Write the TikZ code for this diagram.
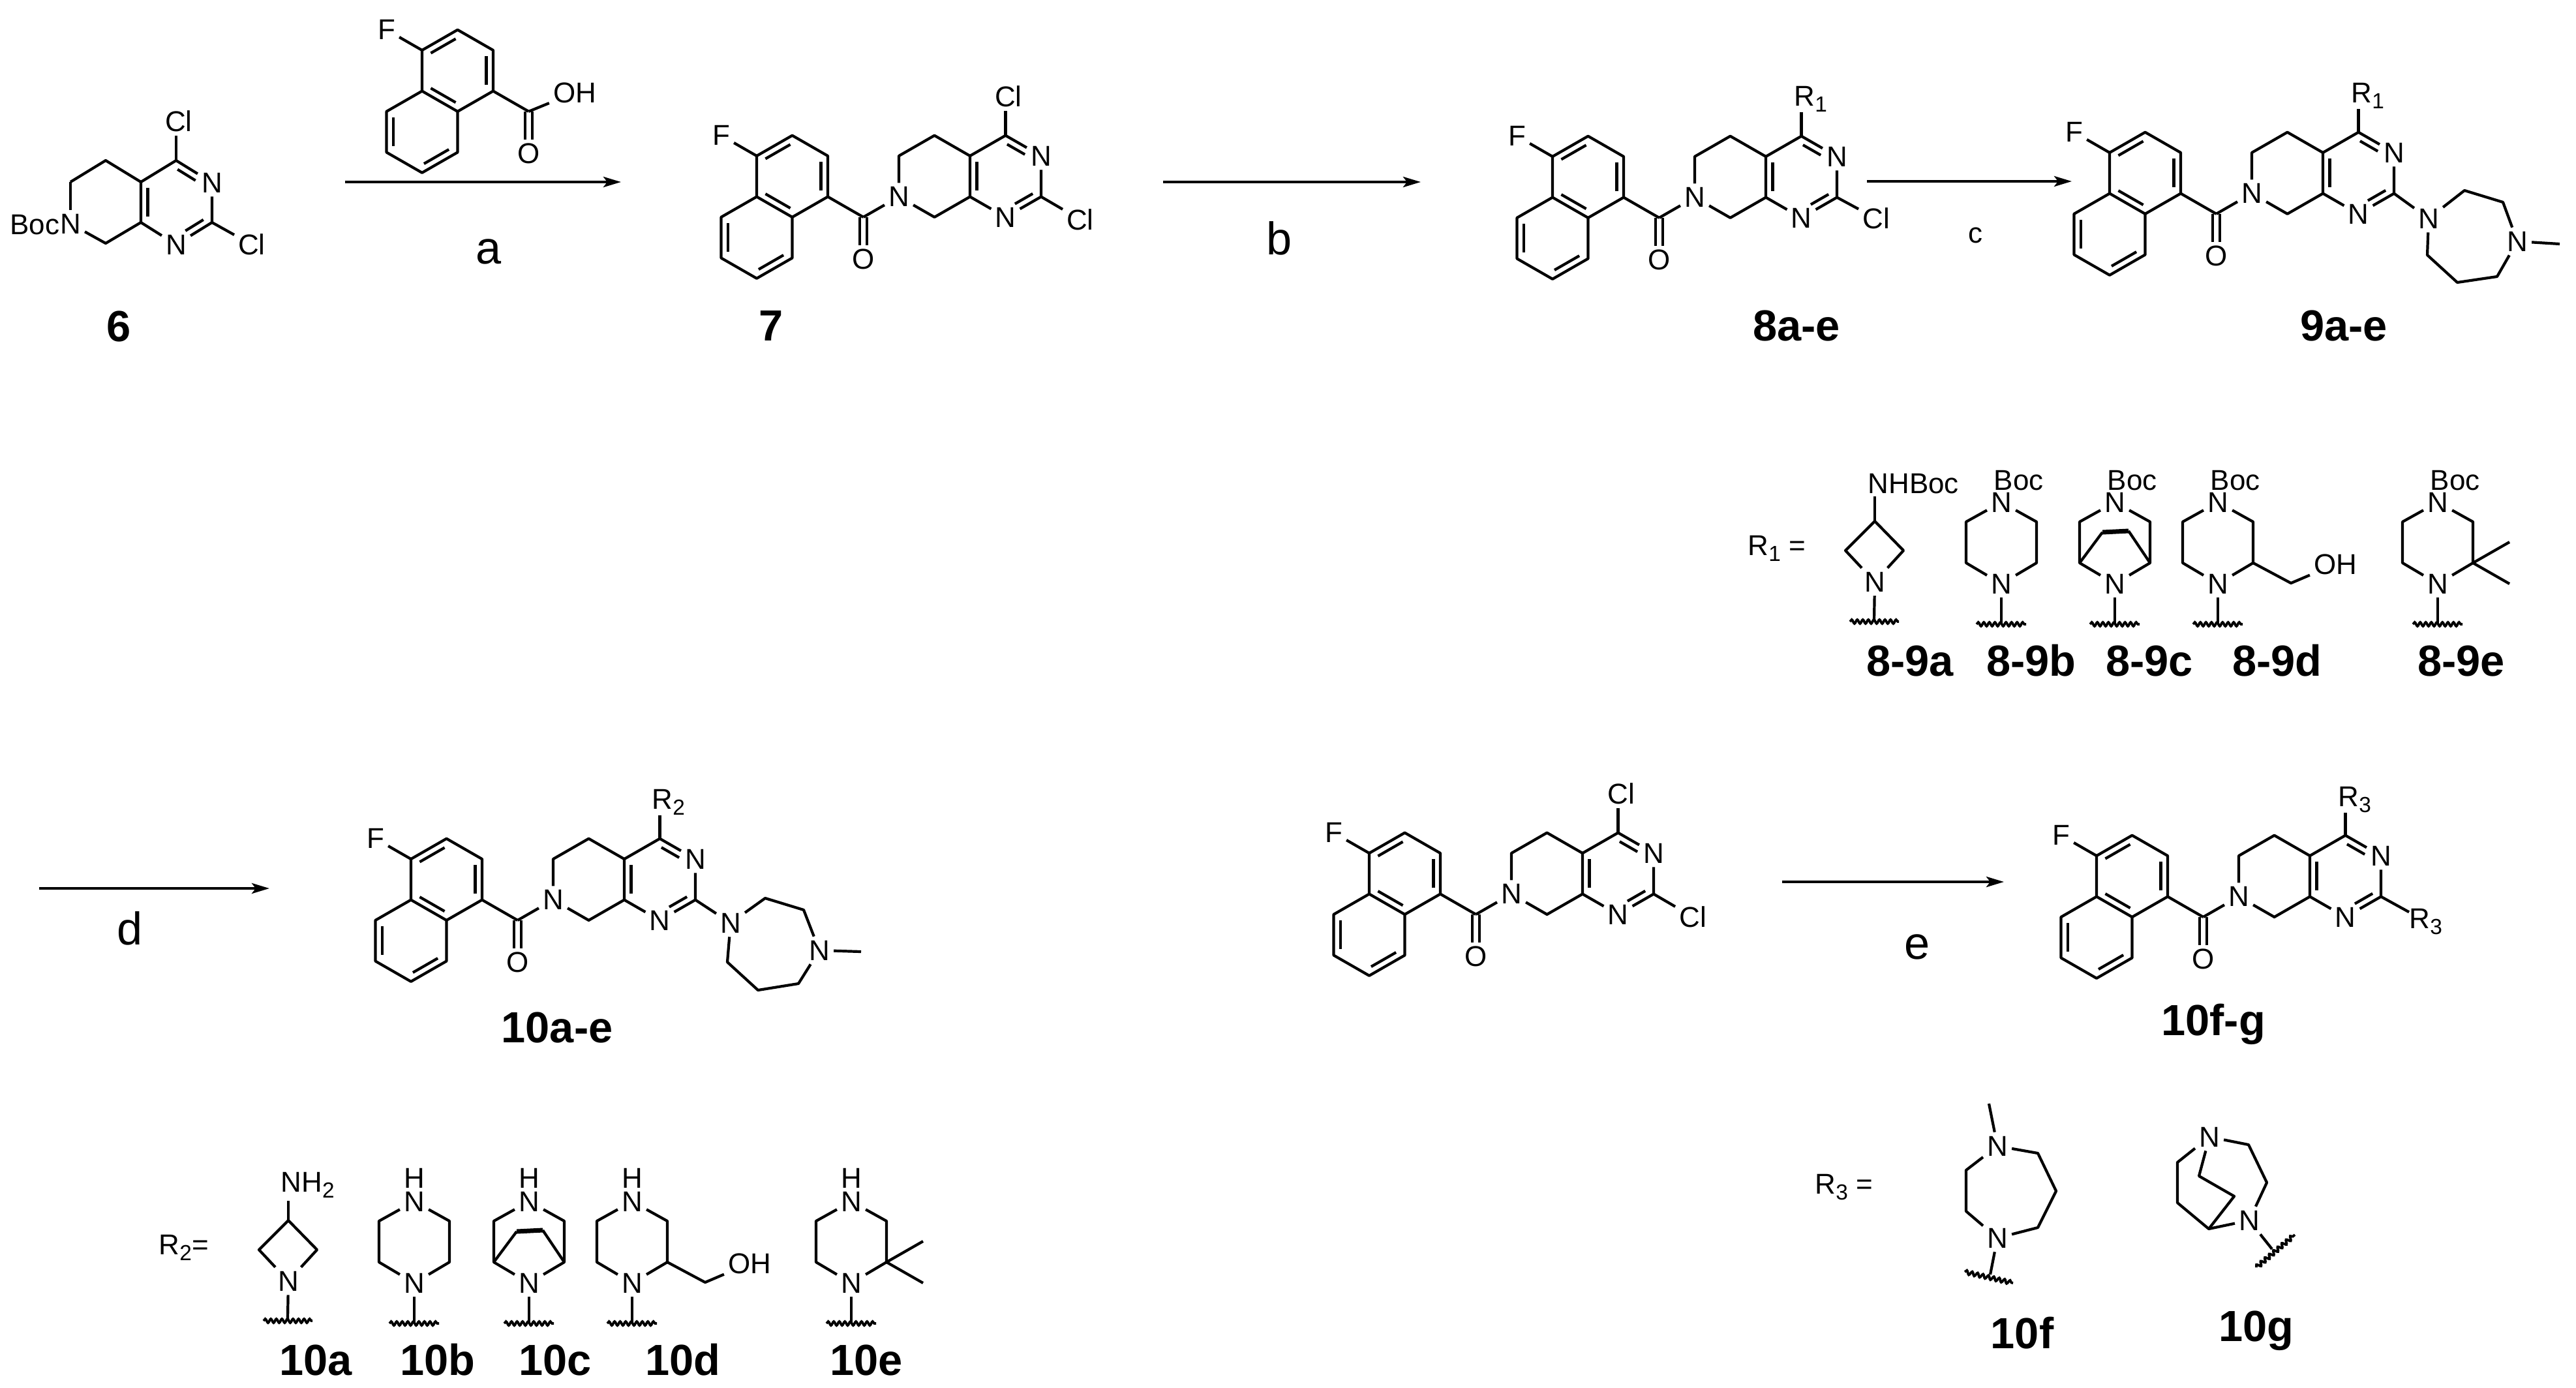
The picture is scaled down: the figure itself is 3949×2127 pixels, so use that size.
\documentclass[tikz,border=0pt]{standalone}
\usepackage{fontspec}
\setmainfont{Liberation Sans}
\usetikzlibrary{calc,arrows.meta,decorations.pathmorphing}
\tikzset{
  bond/.style={draw=black,line width=.42mm,line join=round},
  thickbond/.style={draw=black,line width=.7mm},
  atom/.style={font=\fontsize{12.5}{14}\selectfont,inner sep=.55mm,text=black},
  topatom/.style={atom,inner ysep=.12mm},
  plain/.style={font=\fontsize{12.5}{14}\selectfont,inner sep=.5mm,text=black},
  toplabel/.style={font=\fontsize{12.5}{14}\selectfont,inner sep=0pt,text=black},
  rlabel/.style={font=\fontsize{20}{22}\selectfont,inner sep=0pt,anchor=base,text=black},
  cpd/.style={font=\fontsize{19}{22}\selectfont\bfseries,inner sep=0pt,anchor=base,text=black},
  rxn/.style={draw=black,line width=.42mm,-{Stealth[length=2.7mm,width=1.6mm,inset=.6mm]}},
  wave/.style={draw=black,line width=.38mm,decorate,decoration={snake,amplitude=.3mm,segment length=.85mm}}
}
\newcommand{\sbs}[1]{\raisebox{-.9mm}{\fontsize{9.5}{10}\selectfont #1}}
\newcommand{\dbl}[2]{\draw[bond] ($(#1)!.15!(#2)!1.05mm!90:(#2)$) -- ($(#2)!.15!(#1)!1.05mm!-90:(#1)$);}
\newcommand{\dblx}[2]{\draw[bond] ($(#1)!.36!(#2)!1.05mm!90:(#2)$) -- ($(#2)!.14!(#1)!1.05mm!-90:(#1)$);}
% naphthalene with F and C=O; origin = C bearing F
\newcommand{\naph}[3]{%
  \begin{scope}[shift={(#2,#3)},x=5.45mm,y=-3.13mm]
    \coordinate (#1a) at (0,0); \coordinate (#1b) at (1,-1); \coordinate (#1c) at (2,0);
    \coordinate (#1d) at (2,2); \coordinate (#1e) at (1,3); \coordinate (#1f) at (0,2);
    \coordinate (#1g) at (-1,3); \coordinate (#1h) at (-1,5); \coordinate (#1i) at (0,6);
    \coordinate (#1j) at (1,5); \coordinate (#1co) at (3,3);
    \node[atom] (#1F) at (-1,-1) {F};
    \node[atom] (#1O) at (3,5.06) {O};
  \end{scope}
  \draw[bond] (#1a)--(#1b)--(#1c)--(#1d)--(#1e)--(#1f)--cycle;
  \draw[bond] (#1f)--(#1g)--(#1h)--(#1i)--(#1j)--(#1e);
  \draw[bond] (#1a)--(#1F);
  \draw[bond] (#1d)--(#1co);
  \dbl{#1b}{#1a}\dbl{#1d}{#1c}\dbl{#1f}{#1e}\dbl{#1g}{#1h}\dbl{#1i}{#1j}
  \draw[bond] ($(#1co)+(-5.5,0)$) -- ($(#1co |- #1O.north)+(-5.5,0)$);
  \draw[bond] ($(#1co)+(5.5,0)$) -- ($(#1co |- #1O.north)+(5.5,0)$);
}
\newcommand{\core}[3]{%
  \naph{#1}{#2}{#3}
  \begin{scope}[shift={(#2,#3)},x=5.45mm,y=-3.13mm]
    \node[atom] (#1N7) at (4,2) {N};
    \coordinate (#1C8) at (4,0); \coordinate (#1C5) at (5,-1); \coordinate (#1C4a) at (6,0);
    \coordinate (#1C8a) at (6,2); \coordinate (#1C9) at (5,3);
    \coordinate (#1C4) at (7,-1); \coordinate (#1C2) at (8,2);
    \node[atom] (#1N3) at (8,0) {N};
    \node[atom] (#1N1) at (7,3) {N};
  \end{scope}
  \draw[bond] (#1co)--(#1N7);
  \draw[bond] (#1N7)--(#1C8)--(#1C5)--(#1C4a)--(#1C8a)--(#1C9)--(#1N7);
  \draw[bond] (#1C4a)--(#1C4)--(#1N3)--(#1C2)--(#1N1)--(#1C8a);
  \dbl{#1C4a}{#1C8a}\dblx{#1N1}{#1C2}\dblx{#1N3}{#1C4}
}
\newcommand{\clcl}[1]{%
  \node[atom] (#1Clt) at ($(#1C4)+(4.5,-60)$) {Cl};
  \node[atom] (#1Clr) at ($(#1C2)+(60,35)$) {Cl};
  \draw[bond] (#1C4)--(#1C4 |- #1Clt.south);
  \draw[bond] (#1C2)--(#1Clr);
}
% seven-membered ring given by its points
\newcommand{\dzp}[9]{%
  \node[atom] (#1Na) at #2 {N};
  \node[atom] (#1Nb) at #5 {N};
  \coordinate (#1r1) at #3; \coordinate (#1r2) at #4;
  \coordinate (#1r3) at #6; \coordinate (#1r4) at #7; \coordinate (#1r5) at #8;
  \coordinate (#1me) at #9;
  \draw[bond] (#1Na)--(#1r1)--(#1r2)--(#1Nb)--(#1r3)--(#1r4)--(#1r5)--(#1Na);
  \draw[bond] (#1Nb)--(#1me);
}
\newcommand{\pip}[3]{%
  \node[topatom] (#1Nt) at (#2,#3) {N};
  \node[atom] (#1Nb) at (#2,#3+125) {N};
  \coordinate (#1c1) at (#2+54,#3+30); \coordinate (#1c2) at (#2+54,#3+93);
  \coordinate (#1c3) at (#2-54,#3+93); \coordinate (#1c4) at (#2-54,#3+30);
  \coordinate (#1t) at (#2,#3+187);
  \coordinate (#1wl) at (#2-38,#3+187); \coordinate (#1wr) at (#2+38,#3+187);
  \draw[bond] (#1Nt)--(#1c1)--(#1c2)--(#1Nb)--(#1c3)--(#1c4)--(#1Nt);
  \draw[bond] (#1Nb)--(#1t);
  \draw[wave] (#1wl)--(#1wr);
}
\newcommand{\azet}[3]{%
  \coordinate (#1c) at (#2,#3); \coordinate (#1l) at (#2-45,#3+45); \coordinate (#1r) at (#2+44,#3+45);
  \node[atom] (#1N) at (#2,#3+93) {N};
  \coordinate (#1t) at (#2-1,#3+151);
  \coordinate (#1wl) at (#2-38,#3+154); \coordinate (#1wr) at (#2+37,#3+154);
  \draw[bond] (#1c)--(#1r)--(#1N)--(#1l)--(#1c);
  \draw[bond] (#1N)--(#1t);
  \draw[wave] (#1wl)--(#1wr);
}
\newcommand{\bridge}[3]{%
  \coordinate (#1x1) at (#2-19,#3+46); \coordinate (#1x2) at (#2+21,#3+44);
  \draw[bond] (#1c3)--(#1x1); \draw[thickbond] (#1x1)--(#1x2); \draw[bond] (#1x2)--(#1c2);
}
\newcommand{\hydroxy}[3]{%
  \coordinate (#1m) at (#2+112,#3+124);
  \node[atom] (#1OH) at (#2+180,#3+95) {OH};
  \draw[bond] (#1c2)--(#1m)--(#1OH);
}
\newcommand{\gem}[3]{%
  \coordinate (#1m1) at (#2+110,#3+61); \coordinate (#1m2) at (#2+110,#3+125);
  \draw[bond] (#1m1)--(#1c2)--(#1m2);
}
\begin{document}
\begin{tikzpicture}[x=.1mm,y=-.1mm]
\useasboundingbox (0,0) rectangle (3949,2127);
% ---------- compound 6
\coordinate (s5) at (162,246); \coordinate (s6) at (107,279); \coordinate (s8) at (162,373);
\coordinate (s8a) at (216,341); \coordinate (s4a) at (216,279); \coordinate (s4) at (270,246);
\coordinate (s2) at (325,341);
\node[atom] (sN7) at (108,343) {N};
\node[atom,anchor=base east,inner sep=0pt] (sBoc) at (92,359) {Boc};
\node[atom] (sN3) at (325,280) {N};
\node[atom] (sN1) at (270,375) {N};
\node[atom] (sClt) at (274,186) {Cl};
\node[atom] (sClr) at (386,375) {Cl};
\draw[bond] (sN7 |- s6)--(sN7.north);
\draw[bond] (sN7 |- s6)--(s5)--(s4a)--(s8a)--(s8)--(sN7);
\draw[bond] (s4a)--(s4)--(sN3)--(s2)--(sN1)--(s8a);
\draw[bond] (s4)--(s4 |- sClt.south);
\draw[bond] (s2)--(sClr);
\dbl{s4a}{s8a}\dblx{sN1}{s2}\dblx{sN3}{s4}
\node[cpd] (l6) at (182,523) {6};
% ---------- acid
\naph{ac}{647}{77}
\node[atom] (acOH) at (881,142) {OH};
\draw[bond] (acco)--(acOH);
% ---------- arrows a b c
\coordinate (a1) at (529,279); \coordinate (a2) at (952,279);
\draw[rxn] (a1)--(a2);
\node[rlabel] (la) at (749,404) {a};
\coordinate (b1) at (1783,279); \coordinate (b2) at (2178,279);
\draw[rxn] (b1)--(b2);
\node[rlabel] (lb) at (1961,390) {b};
\coordinate (c1) at (2862,278); \coordinate (c2) at (3176,278);
\draw[rxn] (c1)--(c2);
\node[plain,anchor=base] (lc) at (3028,372) {c};
% ---------- compound 7
\core{g}{1160}{239}
\clcl{g}
\node[cpd] (l7) at (1182,522) {7};
% ---------- compound 8a-e
\core{h}{2380}{240}
\node[plain,anchor=base west,inner sep=0pt] (hR) at (2750,162) {R\sbs{1}};
\draw[bond] (hC4)--(hC4 |- hR.south);
\node[atom] (hCl) at (2876,335) {Cl};
\draw[bond] (hC2)--(hCl);
\node[cpd] (l8) at (2754,522) {8a-e};
% ---------- compound 9a-e
\core{k}{3234}{234}
\node[plain,anchor=base west,inner sep=0pt] (kR) at (3604,157) {R\sbs{1}};
\draw[bond] (kC4)--(kC4 |- kR.south);
\dzp{kd}{(3723,335)}{(3778,292)}{(3837,310)}{(3859,370)}{(3828,424)}{(3767,433)}{(3721,391)}{(3924,374)}
\draw[bond] (kC2)--(kdNa);
\node[cpd] (l9) at (3593,522) {9a-e};
% ---------- R1 table
\node[plain,anchor=base west,inner sep=0pt] (r1eq) at (2679,851) {R\sbs{1} =};
\azet{pa}{2874}{799}
\node[toplabel,anchor=base west] (paB) at (2863,756) {NHBoc};
\draw[bond] (pac)--($(pac |- paB.south)+(0,4)$);
\pip{pb}{3068}{770}
\node[toplabel,anchor=base west] (pbB) at (3056,751) {Boc};
\pip{pc}{3242}{770}
\node[toplabel,anchor=base west] (pcB) at (3230,751) {Boc};
\bridge{pc}{3242}{770}
\pip{pd}{3400}{770}
\node[toplabel,anchor=base west] (pdB) at (3388,751) {Boc};
\hydroxy{pd}{3400}{770}
\pip{pe}{3737}{770}
\node[toplabel,anchor=base west] (peB) at (3725,751) {Boc};
\gem{pe}{3737}{770}
\node[cpd] (l89a) at (2928,1036) {8-9a};
\node[cpd] (l89b) at (3114,1036) {8-9b};
\node[cpd] (l89c) at (3295,1036) {8-9c};
\node[cpd] (l89d) at (3491,1036) {8-9d};
\node[cpd] (l89e) at (3773,1036) {8-9e};
% ---------- compound 10a-e
\coordinate (d1) at (60,1362); \coordinate (d2) at (413,1362);
\draw[rxn] (d1)--(d2);
\node[rlabel] (ld) at (199,1448) {d};
\core{m}{630}{1317}
\node[plain,anchor=base west,inner sep=0pt] (mR) at (999,1240) {R\sbs{2}};
\draw[bond] (mC4)--(mC4 |- mR.south);
\dzp{md}{(1120,1415)}{(1173,1377)}{(1232,1395)}{(1256,1457)}{(1224,1508)}{(1162,1518)}{(1115,1475)}{(1320,1459)}
\draw[bond] (mC2)--(mdNa);
\node[cpd] (l10) at (854,1598) {10a-e};
% ---------- R2 table
\node[plain,anchor=base west,inner sep=0pt] (r2eq) at (243,1923) {R\sbs{2}=};
\azet{qa}{442}{1871}
\node[toplabel,anchor=base west] (qaB) at (430,1827) {NH\sbs{2}};
\draw[bond] (qac)--($(qac |- qaB.south)+(0,4)$);
\pip{qb}{635}{1842}
\node[toplabel] (qbH) at (635,1806) {H};
\pip{qc}{811}{1842}
\node[toplabel] (qcH) at (811,1806) {H};
\bridge{qc}{811}{1842}
\pip{qd}{969}{1842}
\node[toplabel] (qdH) at (969,1806) {H};
\hydroxy{qd}{969}{1842}
\pip{qe}{1305}{1842}
\node[toplabel] (qeH) at (1305,1806) {H};
\gem{qe}{1305}{1842}
\node[cpd] (l10a) at (484,2108) {10a};
\node[cpd] (l10b) at (671,2108) {10b};
\node[cpd] (l10c) at (851,2108) {10c};
\node[cpd] (l10d) at (1047,2108) {10d};
\node[cpd] (l10e) at (1328,2108) {10e};
% ---------- right dichloride
\core{u}{2099}{1308}
\clcl{u}
% ---------- arrow e
\coordinate (e1) at (2732,1352); \coordinate (e2) at (3072,1352);
\draw[rxn] (e1)--(e2);
\node[rlabel] (le) at (2939,1470) {e};
% ---------- compound 10f-g
\core{v}{3214}{1312}
\node[plain,anchor=base west,inner sep=0pt] (vRt) at (3584,1236) {R\sbs{3}};
\draw[bond] (vC4)--(vC4 |- vRt.south);
\node[plain,anchor=base west,inner sep=0pt] (vRr) at (3693,1423) {R\sbs{3}};
\draw[bond] (vC2)--(vRr);
\node[cpd] (l10fg) at (3393,1587) {10f-g};
% ---------- R3 table
\node[plain,anchor=base west,inner sep=0pt] (r3eq) at (2782,1830) {R\sbs{3} =};
\node[atom] (fN1) at (3062,1757) {N};
\node[atom] (fN2) at (3062,1898) {N};
\coordinate (fme) at (3049,1692);
\coordinate (f1) at (3124,1768); \coordinate (f2) at (3152,1826); \coordinate (f3) at (3124,1882);
\coordinate (f4) at (3014,1857); \coordinate (f5) at (3014,1794);
\coordinate (ft) at (3051,1954); \coordinate (fw1) at (3012,1950); \coordinate (fw2) at (3086,1967);
\draw[bond] (fN1)--(f1)--(f2)--(f3)--(fN2)--(f4)--(f5)--(fN1);
\draw[bond] (fme)--(fN1);
\draw[bond] (fN2)--(ft);
\draw[wave] (fw1)--(fw2);
\node[cpd] (l10f) at (3100,2067) {10f};
\node[atom] (gN1) at (3387,1743) {N};
\node[atom] (gN2) at (3448,1871) {N};
\coordinate (g1) at (3447,1755); \coordinate (g2) at (3475,1813);
\coordinate (g3) at (3386,1884); \coordinate (g4) at (3338,1844); \coordinate (g5) at (3338,1782);
\coordinate (g6) at (3371,1803); \coordinate (g7) at (3425,1834);
\coordinate (gt) at (3483,1915); \coordinate (gw1) at (3459,1943); \coordinate (gw2) at (3518,1893);
\draw[bond] (gN1)--(g1)--(g2)--(gN2)--(g3)--(g4)--(g5)--(gN1);
\draw[bond] (gN1)--(g6)--(g7)--(g3);
\draw[bond] (gN2)--(gt);
\draw[wave] (gw1)--(gw2);
\node[cpd] (l10g) at (3459,2056) {10g};
\end{tikzpicture}
\end{document}
